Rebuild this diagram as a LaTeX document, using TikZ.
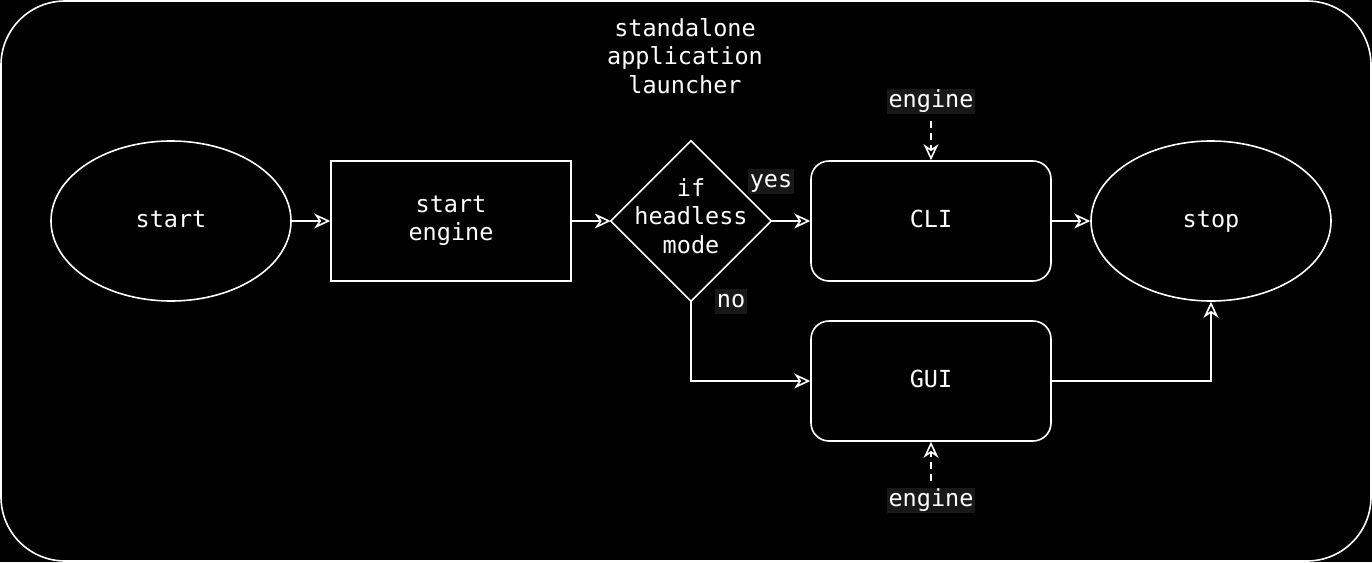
\documentclass[tikz,border=0pt]{standalone}
\usepackage{fontspec}
\setmainfont{DejaVu Sans Mono}
\usetikzlibrary{shapes.geometric,arrows.meta}
\definecolor{lblbg}{RGB}{24,24,24}
\begin{document}
\begin{tikzpicture}[x=1pt,y=-1pt,
  every node/.style={text=white,font=\fontsize{23.5}{28.5}\selectfont},
  one/.style={text height=17pt,text depth=5pt},
  ln/.style={draw=white,line width=1.6pt},
  arr/.style={ln,-{Stealth[open,length=16pt,width=15pt,inset=5pt]}},
  ell/.style={ellipse,ln,minimum width=240,minimum height=160,inner sep=0,one},
  box/.style={rectangle,ln,minimum width=240,minimum height=120,align=center,inner sep=0},
  rbox/.style={box,rounded corners=18,one},
  lbl/.style={fill=lblbg,inner sep=1.5pt,one}
]
\fill[black] (0,0) rectangle (1372,562);
\useasboundingbox (0,0) rectangle (1372,562);
\draw[ln,rounded corners=64] (1,1) rectangle (1371,561);

\node[align=center] (title) at (685,56) {standalone\\application\\launcher};

\node[ell] (start) at (171,221) {start};
\node[box] (se) at (451,221) {start\\engine};
\node[rectangle,minimum width=160,minimum height=160,inner sep=0] (dec) at (691,221) {};
\draw[ln] (dec.north) -- (dec.east) -- (dec.south) -- (dec.west) -- cycle;
\node[align=center] (dectext) at (691,216) {if\\headless\\mode};
\node[rbox] (cli) at (931,221) {CLI};
\node[rbox] (gui) at (931,381) {GUI};
\node[ell] (stop) at (1211,221) {stop};

\node[lbl] (eng1) at (931,101) {engine};
\node[lbl] (eng2) at (931,500) {engine};
\coordinate (e1) at (931,121);
\coordinate (e2) at (931,481);

\draw[arr] (start) -- (se);
\draw[arr] (se) -- (dec.west);
\draw[arr] (dec.east) -- (cli);
\draw[arr] (cli) -- (stop);
\draw[arr] (dec.south) |- (gui);
\draw[arr] (gui) -| (stop);
\draw[arr,dash pattern=on 7pt off 5pt] (e1) -- (cli);
\draw[arr,dash pattern=on 7pt off 5pt] (e2) -- (gui);

\node[lbl] (yes) at (771,181) {yes};
\node[lbl] (no) at (731,301) {no};
\end{tikzpicture}
\end{document}
